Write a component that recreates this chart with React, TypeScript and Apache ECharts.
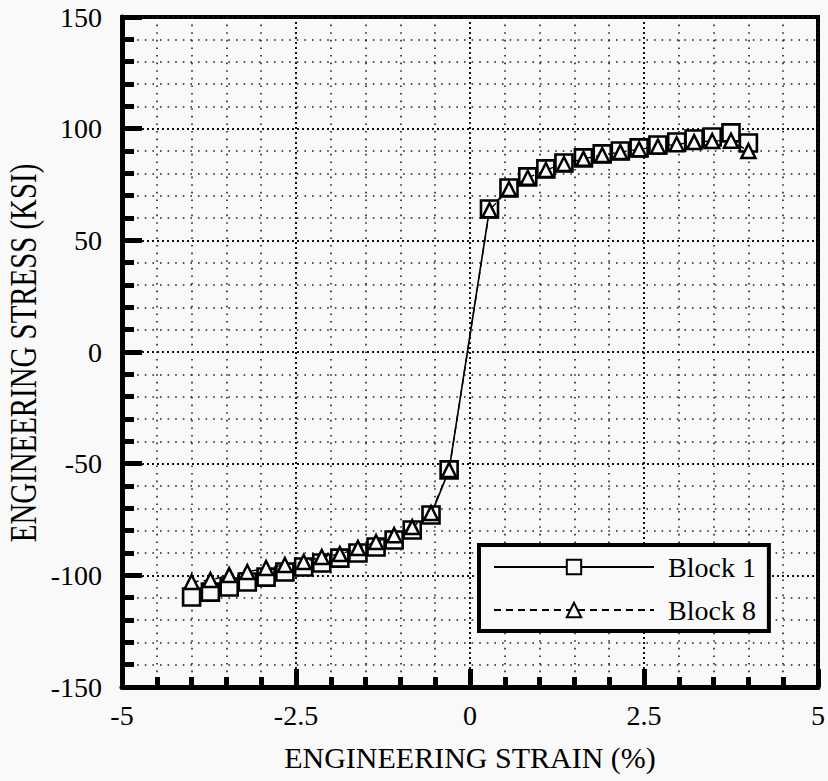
import React, { useEffect, useRef } from "react";
import * as echarts from "echarts";

const strainNeg = [-4.0, -3.73, -3.46, -3.2, -2.93, -2.66, -2.39, -2.13, -1.87, -1.61, -1.35, -1.09, -0.83, -0.56, -0.3];
const strainPos = [0.28, 0.56, 0.83, 1.09, 1.35, 1.63, 1.9, 2.16, 2.43, 2.7, 2.97, 3.22, 3.48, 3.75, 4.0];
const block1Neg = [-109.7, -107.5, -105.2, -103.0, -100.8, -98.5, -96.3, -94.5, -92.3, -90.0, -87.3, -84.2, -79.7, -73.0, -52.8];
const block1Pos = [64.0, 73.4, 78.4, 82.0, 84.6, 86.9, 88.7, 90.0, 91.4, 92.7, 94.0, 95.4, 96.3, 98.1, 93.6];
const block8Neg = [-103.0, -102.1, -99.9, -98.5, -96.7, -95.4, -94.0, -91.8, -90.5, -87.8, -85.1, -82.0, -78.4, -72.1, -52.8];
const block8Pos = [63.5, 73.0, 78.0, 81.5, 84.2, 86.5, 88.2, 89.5, 90.8, 92.0, 93.0, 94.0, 94.5, 94.6, 90.0];
const seriesNames = ["Block 1", "Block 8"];
const xTitle = "ENGINEERING STRAIN (%)";
const yTitle = "ENGINEERING STRESS (KSI)";

const BG = "#f9f9f9";
const FONT = "'Liberation Serif', 'Times New Roman', serif";

export default function App() {
  const ref = useRef<HTMLDivElement>(null);
  useEffect(() => {
    document.body.style.margin = "0";
    document.body.style.background = BG;
    if (!ref.current) return;
    const chart = echarts.init(ref.current, null, { renderer: "svg" });
    const strain = [...strainNeg, ...strainPos];
    const b1 = [...block1Neg, ...block1Pos].map((v, i) => [strain[i], v]);
    const b8 = [...block8Neg, ...block8Pos].map((v, i) => [strain[i], v]);
    const axisCommon = {
      axisLine: { show: true, onZero: false, lineStyle: { color: "#000", width: 5 } },
      axisTick: { show: true, inside: true, lineStyle: { color: "#000", width: 5 } },
      minorTick: { show: true, splitNumber: 5, lineStyle: { color: "#000", width: 5 } },
      splitLine: { show: true, lineStyle: { color: "#111", width: 2, type: [2, 3] } },
      minorSplitLine: { show: true, lineStyle: { color: "#222", width: 1.6, type: [1.6, 6] } },
      axisLabel: { color: "#000", fontSize: 28, fontFamily: FONT },
    };
    chart.setOption({
      animation: false,
      backgroundColor: BG,
      grid: {
        left: 122,
        right: 4,
        top: 17,
        bottom: 94,
        show: true,
        borderColor: "#000",
        borderWidth: 4,
      },
      graphic: [
        {
          type: "text",
          x: 23,
          y: 353,
          rotation: Math.PI / 2,
          scaleX: 0.76,
          style: {
            text: yTitle,
            fontSize: 38,
            fontFamily: FONT,
            fill: "#000",
            align: "center",
            verticalAlign: "middle",
          },
        },
      ],
      xAxis: {
        type: "value",
        min: -5,
        max: 5,
        interval: 2.5,
        name: xTitle,
        nameLocation: "middle",
        nameGap: 55,
        nameTextStyle: { color: "#000", fontSize: 30, fontFamily: FONT },
        ...axisCommon,
        axisTick: { ...axisCommon.axisTick, length: 18 },
        minorTick: { ...axisCommon.minorTick, length: 10 },
        axisLabel: { ...axisCommon.axisLabel, margin: 14 },
      },
      yAxis: {
        type: "value",
        min: -150,
        max: 150,
        interval: 50,
        ...axisCommon,
        axisTick: { ...axisCommon.axisTick, length: 20 },
        minorTick: { ...axisCommon.minorTick, length: 12 },
        axisLabel: { ...axisCommon.axisLabel, margin: 20 },
      },
      legend: {
        orient: "vertical",
        left: 479,
        top: 545,
        padding: [7, 13, 6, 14],
        backgroundColor: BG,
        borderColor: "#000",
        borderWidth: 4,
        itemWidth: 160,
        itemHeight: 18,
        itemGap: 13,
        textStyle: { color: "#000", fontSize: 28, fontFamily: FONT, lineHeight: 30, padding: [0, 0, 0, 9] },
        data: seriesNames,
      },
      series: [
        {
          name: seriesNames[0],
          type: "line",
          data: b1,
          symbol: "rect",
          symbolSize: 17,
          lineStyle: { color: "#000", width: 1.6 },
          itemStyle: { color: BG, borderColor: "#000", borderWidth: 2.6 },
          z: 3,
        },
        {
          name: seriesNames[1],
          type: "line",
          data: b8,
          symbol: "triangle",
          symbolSize: 14,
          lineStyle: { color: "#000", width: 1.4, type: [7, 5] },
          itemStyle: { color: BG, borderColor: "#000", borderWidth: 2.5 },
          z: 4,
        },
      ],
    });
    return () => chart.dispose();
  }, []);
  return <div ref={ref} style={{ width: 828, height: 781, background: BG }} />;
}
